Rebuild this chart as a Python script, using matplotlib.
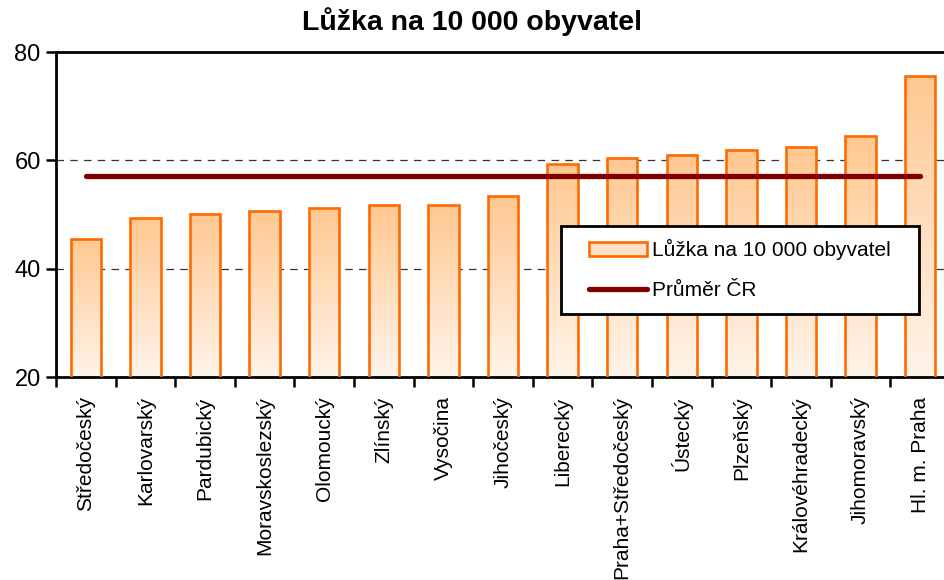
import numpy as np
import matplotlib
matplotlib.use("Agg")
from matplotlib import pyplot as plt
from matplotlib.patches import Patch, Rectangle
from matplotlib.lines import Line2D
from matplotlib.colors import LinearSegmentedColormap

plt.rcParams['font.family'] = ['Liberation Sans', 'DejaVu Sans']

regions = ["Středočeský", "Karlovarský", "Pardubický", "Moravskoslezský", "Olomoucký",
           "Zlínský", "Vysočina", "Jihočeský", "Liberecký", "Praha+Středočeský",
           "Ústecký", "Plzeňský", "Královéhradecký", "Jihomoravský", "Hl. m. Praha"]
beds = [45.5, 49.4, 50.1, 50.7, 51.3, 51.8, 51.8, 53.4, 59.3, 60.4, 61.1, 61.9, 62.5, 64.6, 75.6]
avg_cr = 57.2
yticks = [20, 40, 60, 80]

bar_label = "Lůžka na 10 000 obyvatel"
avg_label = "Průměr ČR"

fig = plt.figure(figsize=(9.44, 5.8), dpi=100)
ax = fig.add_axes([0.0593, 0.35, 0.947, 0.56])

x = np.arange(len(regions))
# gradient from light orange at top to almost white at bottom
grad_cmap = LinearSegmentedColormap.from_list("bar", ["#fff4ea", "#ffc891"])
grad = np.linspace(0, 1, 256).reshape(-1, 1)

bars = ax.bar(x, beds, width=0.51, bottom=0, facecolor="none",
              edgecolor="#ff6a00", linewidth=1.9, zorder=3)
for b in bars:
    x0, w, h = b.get_x(), b.get_width(), b.get_height()
    im = ax.imshow(grad, cmap=grad_cmap, aspect="auto", origin="lower",
                   extent=[x0, x0 + w, 20, h], zorder=2)
    im.set_clip_path(b)

ax.plot(x, [avg_cr] * len(x), color="#800000", linewidth=3.8,
        solid_capstyle="round", zorder=4)

ax.set_xlim(-0.5, len(regions) - 0.5)
ax.set_ylim(20, 80)
ax.set_yticks(yticks)
ax.set_yticklabels([str(v) for v in yticks], fontsize=17)
ax.set_xticks(x)
ax.set_xticklabels(regions, rotation=90, fontsize=15)
ax.tick_params(axis="x", length=0, pad=14)
ax.set_xticks(np.arange(-0.5, len(regions), 1), minor=True)
ax.tick_params(axis="x", which="minor", length=7, width=1.8, direction="out")
ax.tick_params(axis="y", length=7, width=1.8, direction="out", pad=4)

for v in [40, 60]:
    ax.axhline(v, color="#333333", linewidth=0.9, linestyle=(0, (6, 5)), zorder=1)

for side in ["left", "bottom", "top"]:
    ax.spines[side].set_linewidth(2)
ax.spines["right"].set_visible(False)

# legend box drawn by hand so the padding matches
box = Rectangle((0.565, 0.194), 0.40, 0.271, transform=ax.transAxes,
                facecolor="white", edgecolor="black", linewidth=2, zorder=5)
ax.add_patch(box)
handles = [Patch(facecolor="#ffe2c6", edgecolor="#ff6a00", linewidth=1.9, label=bar_label),
           Line2D([0], [0], color="#800000", linewidth=3.8, solid_capstyle="round", label=avg_label)]
leg = ax.legend(handles=handles, loc="center", bbox_to_anchor=(0.765, 0.33),
                fontsize=15, frameon=False, borderpad=0, borderaxespad=0,
                handlelength=2.75, handletextpad=0.25, labelspacing=1.0)
leg.set_zorder(6)

fig.text(0.5, 0.962, "Lůžka na 10 000 obyvatel", ha="center", va="center",
         fontsize=20.5, fontweight="bold")

fig.savefig("out.png", dpi=100)
